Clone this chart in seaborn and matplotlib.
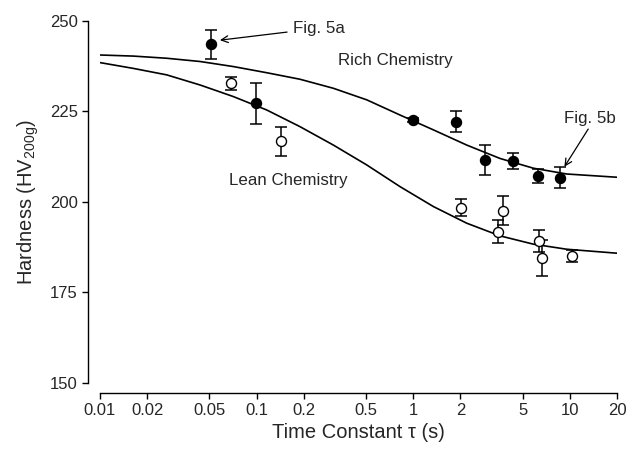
import numpy as np
import pandas as pd
import matplotlib
matplotlib.use("Agg")
import matplotlib.pyplot as plt
import seaborn as sns

# ---- data ----
rich_tau = [0.051, 0.099, 0.99, 1.88, 2.87, 4.36, 6.24, 8.62]
rich_hv = [243.6, 227.2, 222.6, 222.2, 211.6, 211.3, 207.1, 206.6]
rich_err = [4.0, 5.7, 0.6, 2.9, 4.1, 2.1, 1.9, 2.9]

lean_tau = [0.069, 0.143, 2.03, 3.46, 3.76, 6.39, 6.64, 10.3]
lean_hv = [232.8, 216.7, 198.4, 191.7, 197.6, 189.2, 184.5, 185.0]
lean_err = [1.8, 4.0, 2.4, 3.2, 4.0, 3.0, 5.0, 1.6]

# fitted curves, read at points along the picture
fit_tau = [0.01, 0.0163, 0.0267, 0.0436, 0.0711, 0.116, 0.189, 0.309,
           0.505, 0.824, 1.345, 2.195, 3.58, 5.85, 9.55, 20]
rich_fit_hv = [240.6, 240.3, 239.7, 238.8, 237.4, 235.7, 233.9, 231.4,
               228.2, 224.0, 219.9, 215.7, 212.0, 209.3, 207.7, 206.8]
lean_fit_hv = [238.5, 236.9, 235.1, 232.3, 229.1, 225.4, 220.8, 215.7,
               210.2, 204.2, 198.7, 194.1, 190.6, 188.3, 186.9, 185.8]

x_ticks = [0.01, 0.02, 0.05, 0.1, 0.2, 0.5, 1, 2, 5, 10, 20]
x_tick_labels = ["0.01", "0.02", "0.05", "0.1", "0.2", "0.5", "1", "2", "5", "10", "20"]
y_ticks = [150, 175, 200, 225, 250]

sns.set_style("ticks")
plt.rcParams["font.family"] = ["Liberation Sans", "DejaVu Sans"]
plt.rcParams["mathtext.fontset"] = "custom"
plt.rcParams["mathtext.rm"] = "Liberation Sans"
plt.rcParams["mathtext.it"] = "Liberation Sans:italic"

fig = plt.figure(figsize=(6.41, 4.49), dpi=100)
ax = fig.add_axes([100 / 641, 1 - 382.7 / 449, 517 / 641, (382.7 - 21) / 449])

rich_fit = pd.DataFrame({"tau": fit_tau, "hv": rich_fit_hv})
lean_fit = pd.DataFrame({"tau": fit_tau, "hv": lean_fit_hv})
sns.lineplot(data=rich_fit, x="tau", y="hv", ax=ax, color="black", lw=1.2, sort=True)
sns.lineplot(data=lean_fit, x="tau", y="hv", ax=ax, color="black", lw=1.2, sort=True)

ax.errorbar(rich_tau, rich_hv, yerr=rich_err, fmt="none", ecolor="black",
            elinewidth=1.1, capsize=4.3, capthick=1.1, zorder=3)
ax.errorbar(lean_tau, lean_hv, yerr=lean_err, fmt="none", ecolor="black",
            elinewidth=1.1, capsize=4.3, capthick=1.1, zorder=3)

rich = pd.DataFrame({"tau": rich_tau, "hv": rich_hv})
lean = pd.DataFrame({"tau": lean_tau, "hv": lean_hv})
sns.scatterplot(data=rich, x="tau", y="hv", ax=ax, color="black", edgecolor="black",
                s=52, linewidth=1.0, zorder=4)
sns.scatterplot(data=lean, x="tau", y="hv", ax=ax, color="white", edgecolor="black",
                s=52, linewidth=1.0, zorder=4)

ax.set_xscale("log")
ax.set_xlim(0.01, 20)
ax.set_ylim(150, 250)
ax.set_xticks(x_ticks)
ax.set_xticklabels(x_tick_labels)
ax.minorticks_off()
ax.set_yticks(y_ticks)
ax.tick_params(axis="both", labelsize=12, length=4, width=1.0, direction="out", color="black")

sns.despine(ax=ax)
ax.spines["left"].set_position(("outward", 8.6))
ax.spines["bottom"].set_position(("outward", 7.4))
for s in ["left", "bottom"]:
    ax.spines[s].set_linewidth(1.0)
    ax.spines[s].set_color("black")

ax.set_xlabel("Time Constant \u03c4 (s)", fontsize=14.5, labelpad=3)
ax.set_ylabel("Hardness (HV$\\mathregular{_{200g}}$)", fontsize=14.5, labelpad=6)

ax.text(0.333, 239.0, "Rich Chemistry", fontsize=12.2, va="center", ha="left")
ax.text(0.067, 206.0, "Lean Chemistry", fontsize=12.2, va="center", ha="left")

ax.annotate("Fig. 5a", xy=(0.0583, 244.7), xytext=(0.171, 248.0), fontsize=12.2,
            va="center", ha="left",
            arrowprops=dict(arrowstyle="->", color="black", lw=0.9, shrinkA=2, shrinkB=0))
ax.annotate("Fig. 5b", xy=(9.23, 209.7), xytext=(9.23, 223.1), fontsize=12.2,
            va="center", ha="left", annotation_clip=False,
            arrowprops=dict(arrowstyle="->", color="black", lw=0.9, shrinkA=0, shrinkB=0,
                            relpos=(0.5, 0.0)))

for c in ax.collections:
    c.set_clip_on(False)

fig.savefig("out.png", dpi=100)
